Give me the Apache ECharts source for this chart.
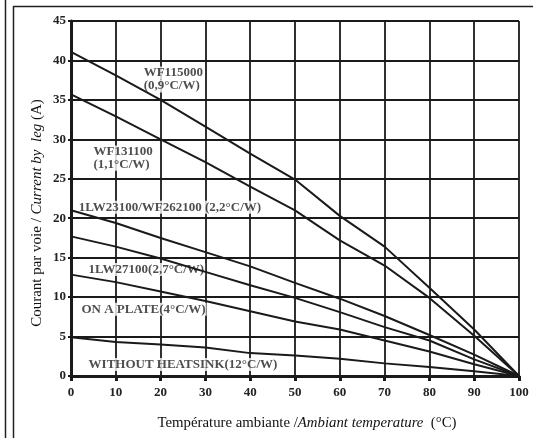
<!DOCTYPE html>
<html><head><meta charset="utf-8">
<script src="https://cdn.jsdelivr.net/npm/echarts@6/dist/echarts.min.js"></script>
<style>html,body{margin:0;padding:0;background:#fff}#c{width:533px;height:438px}</style>
</head><body><div id="c"></div>
<script>
var temps = [0, 10, 20, 30, 40, 50, 60, 70, 80, 90, 100];
var wf115000 = [41.1, 38.1, 35.0, 31.6, 28.2, 24.9, 20.3, 16.4, 11.2, 5.9, 0];
var wf131100 = [35.7, 32.9, 30.0, 27.1, 24.0, 21.0, 17.2, 14.0, 9.9, 5.1, 0];
var lw23100 = [21.0, 19.4, 17.5, 15.7, 13.9, 11.8, 9.8, 7.6, 5.2, 2.7, 0];
var lw27100 = [17.7, 16.4, 14.9, 13.2, 11.5, 9.9, 8.1, 6.2, 4.5, 2.1, 0];
var onPlate = [12.85, 11.9, 10.7, 9.5, 8.2, 6.9, 5.9, 4.5, 3.1, 1.5, 0];
var noHeatsink = [4.9, 4.3, 4.0, 3.6, 2.9, 2.6, 2.2, 1.6, 1.15, 0.6, 0];
var xTicks = [0, 10, 20, 30, 40, 50, 60, 70, 80, 90, 100];
var yTicks = [0, 5, 10, 15, 20, 25, 30, 35, 40, 45];
var labelTexts = ['WF115000', '(0,9°C/W)', 'WF131100', '(1,1°C/W)', '1LW23100/WF262100 (2,2°C/W)', '1LW27100(2,7°C/W)', 'ON A PLATE(4°C/W)', 'WITHOUT HEATSINK(12°C/W)'];
var labelX = [16.0, 16.0, 4.8, 4.8, 1.5, 3.7, 2.1, 3.7];
var labelY = [38.4, 36.75, 28.4, 26.85, 21.4, 13.5, 8.45, 1.47];

var curves = [wf115000, wf131100, lw23100, lw27100, onPlate, noHeatsink];
var SERIF = '"Liberation Serif","DejaVu Serif",serif';
var INK = '#1a1a1a';

function pairs(vals) { return temps.map(function (t, i) { return [t, vals[i]]; }); }

var series = curves.map(function (c) {
  return {
    type: 'line', data: pairs(c), showSymbol: false, symbol: 'none', z: 4,
    lineStyle: { color: INK, width: 2 }, animation: false, silent: true
  };
});
series.push({
  type: 'scatter', z: 3, symbolSize: 0, animation: false, silent: true,
  data: labelTexts.map(function (t, i) { return { name: t, value: [labelX[i], labelY[i]] }; }),
  label: {
    show: true, position: 'right', distance: 0, formatter: '{b}',
    fontFamily: SERIF, fontWeight: 'bold', fontSize: 13, color: '#222',
    backgroundColor: '#fff', padding: [0, 1, 0, 1]
  }
});

var chart = echarts.init(document.getElementById('c'));
chart.setOption({
  animation: false,
  backgroundColor: '#fff',
  grid: { left: 71, right: 14, top: 21, bottom: 62 },
  xAxis: {
    type: 'value', min: 0, max: 100, interval: 10,
    axisLine: { show: true, lineStyle: { color: INK, width: 3 } },
    axisTick: { show: true, length: 5, lineStyle: { color: INK, width: 3 } },
    axisLabel: { margin: 10, fontFamily: SERIF, fontWeight: 'bold', fontSize: 13, color: '#222',
      formatter: function (v) { return xTicks.indexOf(v) >= 0 ? String(v) : ''; } },
    splitLine: { show: true, lineStyle: { color: INK, width: 1.8 } }
  },
  yAxis: {
    type: 'value', min: 0, max: 45, interval: 5,
    axisLine: { show: true, lineStyle: { color: INK, width: 3 } },
    axisTick: { show: true, length: 3, lineStyle: { color: INK, width: 2 } },
    axisLabel: { margin: 5, fontFamily: SERIF, fontWeight: 'bold', fontSize: 13, color: '#222',
      formatter: function (v) { return yTicks.indexOf(v) >= 0 ? String(v) : ''; } },
    splitLine: { show: true, lineStyle: { color: INK, width: 1.8 } }
  },
  graphic: [
    { type: 'line', shape: { x1: 5.5, y1: 0, x2: 5.5, y2: 438 }, style: { stroke: '#222', lineWidth: 1.5 } },
    { type: 'line', shape: { x1: 13.5, y1: 6, x2: 13.5, y2: 438 }, style: { stroke: '#222', lineWidth: 1.5 } },
    { type: 'line', shape: { x1: 13, y1: 6.5, x2: 533, y2: 6.5 }, style: { stroke: '#222', lineWidth: 1.5 } },
    { type: 'text', x: 307, y: 423, style: {
        text: '{n|Température ambiante /}{i|Ambiant temperature}{n|  (°C)}',
        align: 'center', verticalAlign: 'middle',
        rich: { n: { fontFamily: SERIF, fontSize: 14.8, fill: '#111' }, i: { fontFamily: SERIF, fontSize: 14.8, fontStyle: 'italic', fill: '#111' } }
      } },
    { type: 'text', x: 37, y: 213, rotation: Math.PI / 2, style: {
        text: '{n|Courant par voie / }{i|Current by  leg}{n| (A)}',
        align: 'center', verticalAlign: 'middle',
        rich: { n: { fontFamily: SERIF, fontSize: 15, fill: '#111' }, i: { fontFamily: SERIF, fontSize: 15, fontStyle: 'italic', fill: '#111' } }
      } }
  ],
  series: series
});
</script></body></html>
